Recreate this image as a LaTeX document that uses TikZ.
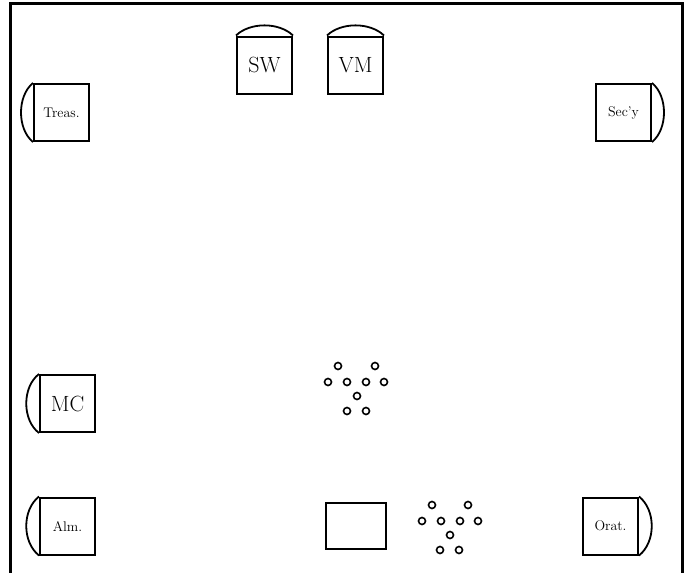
\documentclass[tikz,border=0pt]{standalone}
\usetikzlibrary{calc}
\begin{document}
\begin{tikzpicture}[x=1pt, y=-1pt,
    chair/.style={draw, line width=2pt, rectangle, minimum width=55pt, minimum height=57pt, inner sep=0pt},
    big/.style={font=\fontsize{22}{24}\selectfont},
    small/.style={font=\fontsize{14}{16}\selectfont},
    seat/.style={draw, line width=1.6pt, circle, minimum size=7pt, inner sep=0pt}]
    \useasboundingbox (0,0) rectangle (691,573);
    % walls
    \draw[line width=3pt] (10,573) -- (10,3) -- (682,3) -- (682,573);
    % officers' chairs
    \node[chair, big] (SW) at (264.5,65) {SW};
    \node[chair, big] (VM) at (355.5,65) {VM};
    \node[chair, small] (Tr) at (61.5,112.5) {Treas.};
    \node[chair, small] (Sy) at (623.5,112.5) {Sec'y};
    \node[chair, big] (MC) at (67.5,403.5) {MC};
    \node[chair, small] (Al) at (67.5,526) {Alm.};
    \node[chair, small] (Or) at (610.5,526) {Orat.};
    % chair backs
    \draw[line width=1.8pt] (SW.north west) .. controls (250,22) and (279,22) .. (SW.north east);
    \draw[line width=1.8pt] (VM.north west) .. controls (341,22) and (370,22) .. (VM.north east);
    \draw[line width=1.8pt] (Tr.north west) .. controls (17,96) and (17,129) .. (Tr.south west);
    \draw[line width=1.8pt] (Sy.north east) .. controls (668,96) and (668,129) .. (Sy.south east);
    \draw[line width=1.8pt] (MC.north west) .. controls (22,387) and (22,420) .. (MC.south west);
    \draw[line width=1.8pt] (Al.north west) .. controls (22,510) and (22,542) .. (Al.south west);
    \draw[line width=1.8pt] (Or.north east) .. controls (656,510) and (656,542) .. (Or.south east);
    % altar
    \node[draw, line width=2pt, minimum width=60pt, minimum height=46pt, inner sep=0pt] (altar) at (356,526) {};
    % lights
    \foreach \p [count=\i] in {(338,366),(375,366),(328,382),(347,382),(366,382),(384,382),(357,396),(347,411),(366,411)}
        \node[seat] (a\i) at \p {};
    \foreach \p [count=\i] in {(432,505),(468,505),(422,521),(441,521),(460,521),(478,521),(450,535),(440,550),(459,550)}
        \node[seat] (b\i) at \p {};
\end{tikzpicture}
\end{document}
